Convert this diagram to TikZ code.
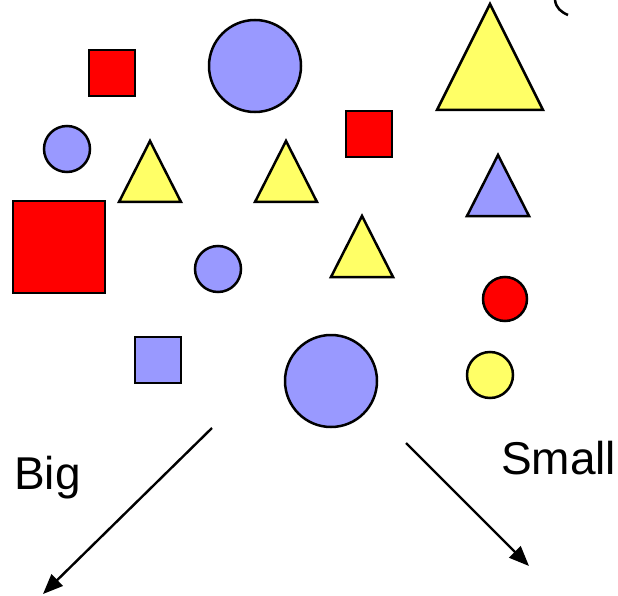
\documentclass[tikz,border=0pt]{standalone}
\usepackage{fontspec}
\setmainfont{Liberation Sans}
\usetikzlibrary{arrows.meta}
\definecolor{shapeblue}{HTML}{9999FF}
\definecolor{shapered}{HTML}{FF0000}
\definecolor{shapeyellow}{HTML}{FFFF66}

\begin{document}
\begin{tikzpicture}[x=1pt,y=-1pt,
  blob/.style={draw=black,line width=2.5pt,fill=#1},
  sq/.style={blob=#1,rectangle,inner sep=0pt,outer sep=0pt},
  disc/.style={blob=#1,circle,inner sep=0pt,outer sep=0pt},
  lbl/.style={font=\fontsize{46pt}{50pt}\selectfont,inner sep=0pt,anchor=base west},
  arr/.style={-{Triangle[length=20pt,width=16pt]},line width=2.4pt}]
  \useasboundingbox (0,0) rectangle (618,596);
  % squares -- centre x/y, side
  \foreach \n/\x/\y/\s/\c in {rA/112/73/46/shapered, rB/369/134/46/shapered,
                              rC/59/247/92/shapered, bA/158/360/46/shapeblue}{
    \node[sq=\c,minimum size=\s pt] (\n) at (\x,\y) {};}
  % circles -- centre x/y, diameter
  \foreach \n/\x/\y/\d/\c in {cA/67/149/46/shapeblue, cB/255/66/92/shapeblue,
                              cC/218/269/46/shapeblue, cD/505/299/44/shapered,
                              cE/331/381/92/shapeblue, cF/490/375/46/shapeyellow}{
    \node[disc=\c,minimum size=\d pt] (\n) at (\x,\y) {};}
  % triangles -- apex x/y, half base, height
  \foreach \n/\x/\y/\w/\h/\c in {tA/150/141/31/61/shapeyellow, tB/286/141/31/61/shapeyellow,
                                 tC/362/216/31/61/shapeyellow, tD/498/155/31/61/shapeblue,
                                 tE/490/4/53/106/shapeyellow}{
    \draw[blob=\c,line join=miter] (\x,\y) coordinate (\n) -- ++(\w,\h) -- ++(-2*\w,0) -- cycle;}
  % clipped arc at the top edge
  \draw[line width=2.5pt] (555,0) .. controls (556,8) and (561,12) .. (568,15);
  % labels
  \node[lbl] (big) at (14,489) {Big};
  \node[lbl] (small) at (501,474) {Small};
  % arrows
  \coordinate (bigfrom) at (212,428);
  \coordinate (bigto) at (43,594);
  \coordinate (smallfrom) at (406,443);
  \coordinate (smallto) at (529,566);
  \draw[arr] (bigfrom) -- (bigto);
  \draw[arr] (smallfrom) -- (smallto);
\end{tikzpicture}
\end{document}
